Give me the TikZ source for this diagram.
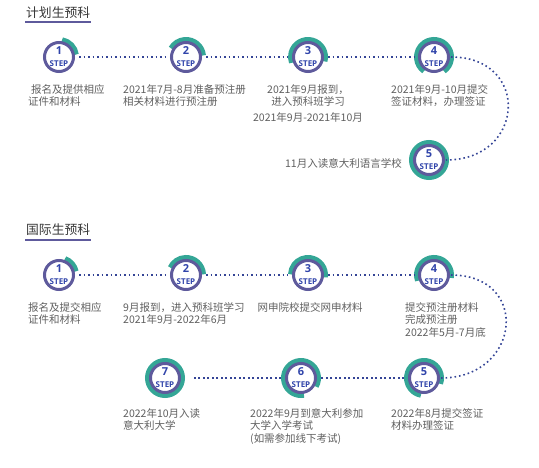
\documentclass[tikz,border=0pt]{standalone}
\usepackage{fontspec}
\setmainfont{Noto Sans CJK SC}
\newfontfamily\stepfont{Open Sans}
\definecolor{ringpurple}{RGB}{94, 90, 156}
\definecolor{arcteal}{RGB}{52, 166, 150}
\definecolor{dotnavy}{RGB}{52, 68, 150}
\definecolor{numblue}{RGB}{48, 68, 170}
\definecolor{labelgray}{RGB}{95, 95, 95}
\definecolor{titlegray}{RGB}{55, 55, 55}
\usetikzlibrary{arrows.meta, positioning}

\begin{document}
\begin{tikzpicture}[x=1pt, y=1pt,
  stepc/.style={circle, draw=ringpurple, line width=3pt, minimum size=29pt, inner sep=0pt, align=center, text=numblue, font=\stepfont\bfseries},
  tealarc/.style={draw=arcteal, line width=6.4pt},
  dotline/.style={draw=dotnavy, line width=1.6pt, dash pattern=on 1.6pt off 2.9pt, shorten <=4pt, shorten >=4pt},
  lbl/.style={inner sep=0pt, text=labelgray, align=left, font=\fontsize{10.5}{12.8}\selectfont},
  sectitle/.style={anchor=west, inner sep=0pt, text=titlegray, font=\fontsize{12.8}{14}\selectfont}
]
  \useasboundingbox (0,0) rectangle (539,467);

  % ---- section 1
  \node[sectitle] (t1) at (26, 454) {计划生预科};
  \draw[ringpurple, line width=2pt] (25, 445) -- (91, 445);

  \draw[tealarc] (59,410) ++(8:16.8) arc[start angle=8, end angle=80, radius=16.8];
  \draw[tealarc] (186,410) ++(5:16.8) arc[start angle=5, end angle=150, radius=16.8];
  \draw[tealarc] (308,410) ++(-15:16.8) arc[start angle=-15, end angle=200, radius=16.8];
  \draw[tealarc] (434,410) ++(-55:16.8) arc[start angle=-55, end angle=235, radius=16.8];
  \draw[tealarc] (429,307) circle[radius=16.8];

  \node[stepc] (a1) at (59,410) {\fontsize{11}{8.5}\selectfont 1\\\fontsize{8}{8}\selectfont STEP};
  \node[stepc] (a2) at (186,410) {\fontsize{11}{8.5}\selectfont 2\\\fontsize{8}{8}\selectfont STEP};
  \node[stepc] (a3) at (308,410) {\fontsize{11}{8.5}\selectfont 3\\\fontsize{8}{8}\selectfont STEP};
  \node[stepc] (a4) at (434,410) {\fontsize{11}{8.5}\selectfont 4\\\fontsize{8}{8}\selectfont STEP};
  \node[stepc] (a5) at (429,307) {\fontsize{11}{8.5}\selectfont 5\\\fontsize{8}{8}\selectfont STEP};

  \draw[dotline] (a1) -- (a2);
  \draw[dotline] (a2) -- (a3);
  \draw[dotline] (a3) -- (a4);
  \draw[dotline, shorten <=1pt, shorten >=1pt] (a4) to[out=0, in=0, looseness=2] (a5);

  \node[lbl, anchor=north west] (la1) at (28,383) {\hspace{3pt}报名及提供相应\\证件和材料};
  \node[lbl, anchor=north west] (la2) at (123,383) {2021年7月-8月准备预注册\\相关材料进行预注册};
  \node[lbl, anchor=north, align=center] (la3) at (308,383) {2021年9月报到，\\进入预科班学习\\[3pt]2021年9月-2021年10月};
  \node[lbl, anchor=north west] (la4) at (391,383) {2021年9月-10月提交\\签证材料，办理签证};
  \node[lbl, anchor=east] (la5) at (402,304) {11月入读意大利语言学校};

  % ---- section 2
  \node[sectitle] (t2) at (26, 237) {国际生预科};
  \draw[ringpurple, line width=2pt] (25, 227) -- (91, 227);

  \draw[tealarc] (59,192) ++(12:16.8) arc[start angle=12, end angle=70, radius=16.8];
  \draw[tealarc] (186,192) ++(2:16.8) arc[start angle=2, end angle=155, radius=16.8];
  \draw[tealarc] (308,192) ++(-8:16.8) arc[start angle=-8, end angle=178, radius=16.8];
  \draw[tealarc] (434,192) ++(-10:16.8) arc[start angle=-10, end angle=200, radius=16.8];
  \draw[tealarc] (424,89) ++(-20:16.8) arc[start angle=-20, end angle=260, radius=16.8];
  \draw[tealarc] (301,89) ++(-30:16.8) arc[start angle=-30, end angle=280, radius=16.8];
  \draw[tealarc] (165,89) circle[radius=16.8];

  \node[stepc] (b1) at (59,192) {\fontsize{11}{8.5}\selectfont 1\\\fontsize{8}{8}\selectfont STEP};
  \node[stepc] (b2) at (186,192) {\fontsize{11}{8.5}\selectfont 2\\\fontsize{8}{8}\selectfont STEP};
  \node[stepc] (b3) at (308,192) {\fontsize{11}{8.5}\selectfont 3\\\fontsize{8}{8}\selectfont STEP};
  \node[stepc] (b4) at (434,192) {\fontsize{11}{8.5}\selectfont 4\\\fontsize{8}{8}\selectfont STEP};
  \node[stepc] (b5) at (424,89) {\fontsize{11}{8.5}\selectfont 5\\\fontsize{8}{8}\selectfont STEP};
  \node[stepc] (b6) at (301,89) {\fontsize{11}{8.5}\selectfont 6\\\fontsize{8}{8}\selectfont STEP};
  \node[stepc] (b7) at (165,89) {\fontsize{11}{8.5}\selectfont 7\\\fontsize{8}{8}\selectfont STEP};

  \draw[dotline] (b1) -- (b2);
  \draw[dotline] (b2) -- (b3);
  \draw[dotline] (b3) -- (b4);
  \draw[dotline, shorten <=1pt, shorten >=1pt] (b4) to[out=0, in=0, looseness=2] (b5);
  \draw[dotline] (b5) -- (b6);
  \draw[dotline, shorten >=12pt] (b6) -- (b7);

  \node[lbl, anchor=north west] (lb1) at (28,165) {报名及提交相应\\证件和材料};
  \node[lbl, anchor=north west] (lb2) at (123,165) {9月报到，进入预科班学习\\2021年9月-2022年6月};
  \node[lbl, anchor=north] (lb3) at (310,165) {网申院校提交网申材料};
  \node[lbl, anchor=north west] (lb4) at (405,165) {提交预注册材料\\完成预注册\\2022年5月-7月底};
  \node[lbl, anchor=north west] (lb5) at (391,59) {2022年8月提交签证\\材料办理签证};
  \node[lbl, anchor=north west] (lb6) at (250,59) {2022年9月到意大利参加\\大学入学考试\\(如需参加线下考试)};
  \node[lbl, anchor=north west] (lb7) at (123,59) {2022年10月入读\\意大利大学};
\end{tikzpicture}
\end{document}
